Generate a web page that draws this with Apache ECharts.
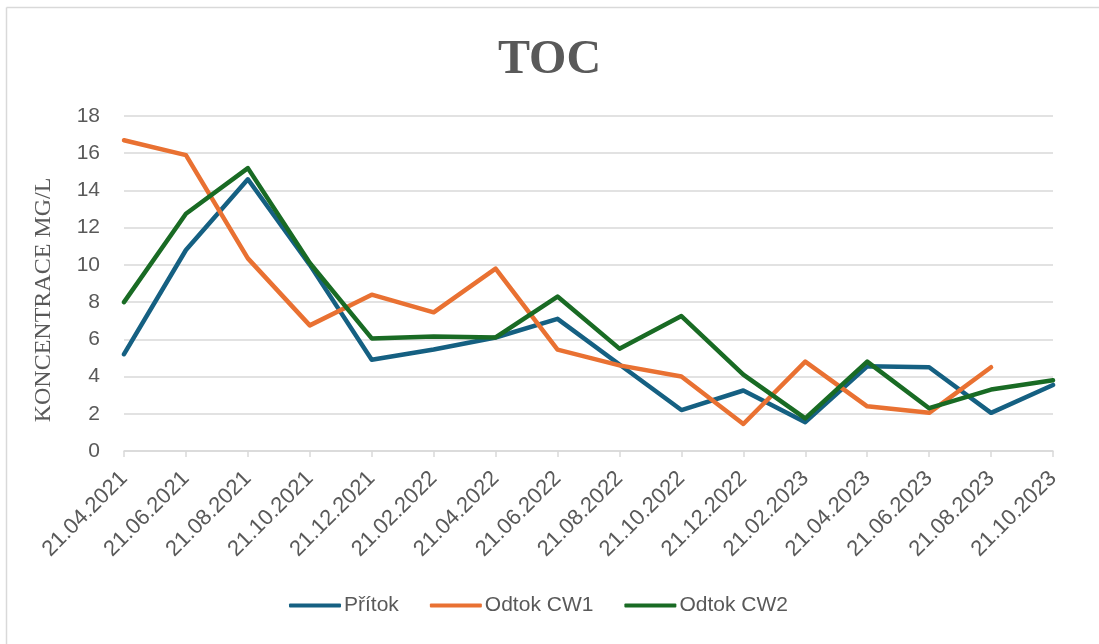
<!DOCTYPE html>
<html><head><meta charset="utf-8">
<script src="https://cdn.jsdelivr.net/npm/echarts@6/dist/echarts.min.js"></script>
<style>html,body{margin:0;padding:0;background:#fff}#c{width:1099px;height:644px}</style>
</head><body><div id="c"></div>
<script>
const categories = ['21.04.2021','21.06.2021','21.08.2021','21.10.2021','21.12.2021','21.02.2022','21.04.2022','21.06.2022','21.08.2022','21.10.2022','21.12.2022','21.02.2023','21.04.2023','21.06.2023','21.08.2023','21.10.2023'];
const pritok = [5.2,10.8,14.6,10.0,4.9,5.45,6.1,7.1,4.65,2.2,3.25,1.55,4.55,4.5,2.05,3.55];
const odtokCW1 = [16.7,15.9,10.35,6.75,8.4,7.45,9.8,5.45,4.6,4.0,1.45,4.8,2.4,2.05,4.5,null];
const odtokCW2 = [8.0,12.75,15.2,10.1,6.05,6.15,6.1,8.3,5.5,7.25,4.1,1.75,4.8,2.3,3.3,3.8];
const seriesNames = ['Přítok','Odtok CW1','Odtok CW2'];
const colors = ['#156082','#E97132','#196B24'];

const chart = echarts.init(document.getElementById('c'));
const mk = (name, data, color) => ({
  name, type:'line', data, symbol:'none', connectNulls:false,
  lineStyle:{width:4.5, color, cap:'round', join:'round'}, itemStyle:{color}
});
chart.setOption({
  animation:false,
  title:{text:'TOC', left:'center', top:32, textStyle:{fontFamily:'Liberation Serif', fontWeight:'bold', fontSize:48, color:'#595959'}},
  grid:{left:124, right:46, top:116, bottom:193},
  legend:{bottom:23, left:284, itemWidth:52, itemHeight:4, itemGap:31,
    icon:'roundRect',
    textStyle:{fontFamily:'Liberation Sans', fontSize:21, color:'#595959', padding:[0,0,0,-2]},
    data:seriesNames},
  xAxis:{type:'category', data:categories, boundaryGap:false,
    axisLine:{lineStyle:{color:'#d9d9d9', width:1.5}},
    axisTick:{show:true, alignWithLabel:true, length:6, lineStyle:{color:'#d9d9d9', width:1.5}},
    axisLabel:{rotate:45, fontFamily:'Liberation Sans', fontSize:22, color:'#595959', margin:24, interval:0},
    splitLine:{show:false}},
  yAxis:{type:'value', min:0, max:18, interval:2,
    axisLine:{show:false}, axisTick:{show:false},
    axisLabel:{fontFamily:'Liberation Sans', fontSize:21, color:'#595959', margin:24},
    splitLine:{lineStyle:{color:'#d9d9d9', width:1.5}}},
  graphic:[
    {type:'line', shape:{x1:6.5,y1:7.5,x2:6.5,y2:644}, style:{stroke:'#d9d9d9', lineWidth:1.5}},
    {type:'line', shape:{x1:6.5,y1:7.5,x2:1099,y2:7.5}, style:{stroke:'#d9d9d9', lineWidth:1.5}},
    {type:'text', x:44, y:300, rotation:Math.PI/2,
      style:{text:'KONCENTRACE MG/L', font:'24px "Liberation Serif"', fill:'#595959', textAlign:'center', textVerticalAlign:'middle'}}
  ],
  series:[mk(seriesNames[0], pritok, colors[0]), mk(seriesNames[1], odtokCW1, colors[1]), mk(seriesNames[2], odtokCW2, colors[2])]
});
</script></body></html>
